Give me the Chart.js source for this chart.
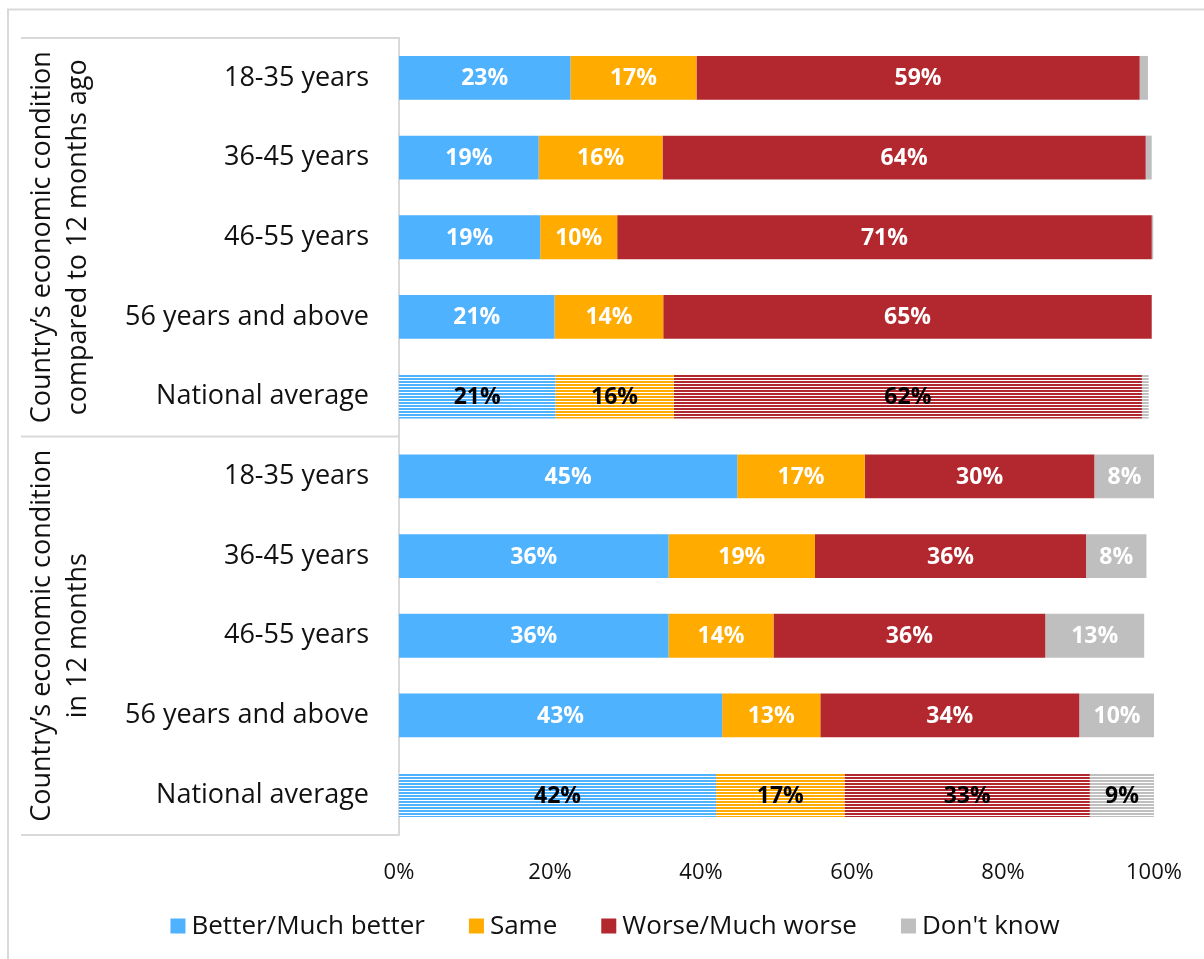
<!DOCTYPE html>
<html>
<head>
<meta charset="utf-8">
<script src="https://cdn.jsdelivr.net/npm/chart.js@4/dist/chart.umd.min.js"></script>
<style>
  html, body { margin: 0; padding: 0; background: #fff; }
  #wrap { width: 1204px; height: 959px; position: relative; }
</style>
</head>
<body>
<div id="wrap"><canvas id="chart" width="1204" height="959"></canvas></div>
<script>
const categories = [
    '18-35 years', '36-45 years', '46-55 years', '56 years and above', 'National average',
    '18-35 years', '36-45 years', '46-55 years', '56 years and above', 'National average'
];
const groupTitles = [
    ['Country\u2019s economic condition', 'compared to 12 months ago'],
    ['Country\u2019s economic condition', 'in 12 months']
];
const seriesNames = ['Better/Much better', 'Same', 'Worse/Much worse', 'Don\'t know'];
const better = [22.7, 18.5, 18.7, 20.6, 20.7, 44.8, 35.7, 35.7, 42.8, 42.0];
const same = [16.7, 16.4, 10.2, 14.4, 15.7, 16.9, 19.4, 13.9, 13.0, 17.0];
const worse = [58.7, 64.0, 70.8, 64.7, 62.0, 30.4, 35.9, 36.0, 34.3, 32.5];
const dontKnow = [1.1, 0.8, 0.2, 0, 0.9, 8.0, 8.0, 13.1, 10.0, 8.5];
const xTicks = [0, 20, 40, 60, 80, 100];

const colors = ['#4fb2ff', '#ffab00', '#b2282e', '#bfbfbf'];
const fontFamily = '"Open Sans", "Noto Sans", sans-serif';
const lineColor = '#d9d9d9';

// horizontal stripes for the national average rows
function stripes(color) {
    const c = document.createElement('canvas');
    c.width = 4;
    c.height = 3;
    const cx = c.getContext('2d');
    cx.fillStyle = color;
    cx.fillRect(0, 0, 4, 2);
    cx.fillStyle = 'rgba(255,255,255,0.85)';
    cx.fillRect(0, 2, 4, 1);
    return cx.createPattern(c, 'repeat');
}

function isAverage(i) {
    return categories[i] === 'National average';
}

function makeDataset(name, values, color) {
    const pattern = stripes(color);
    return {
        label: name,
        data: values,
        backgroundColor: ctx => isAverage(ctx.dataIndex) ? pattern : color,
        borderWidth: 0,
        categoryPercentage: 1,
        barPercentage: 0.55
    };
}

const tablePlugin = {
    id: 'table',
    beforeDraw(chart) {
        const ctx = chart.ctx;
        const area = chart.chartArea;
        ctx.save();
        ctx.strokeStyle = lineColor;
        ctx.lineWidth = 2;
        // outer frame
        ctx.beginPath();
        ctx.moveTo(8, 960);
        ctx.lineTo(8, 9.5);
        ctx.lineTo(1210, 9.5);
        ctx.stroke();
        // group separators
        const band = (area.bottom - area.top) / categories.length;
        const rows = [0, 5, 10];
        ctx.beginPath();
        rows.forEach(r => {
            const y = area.top + r * band;
            ctx.moveTo(21, y);
            ctx.lineTo(area.left, y);
        });
        ctx.stroke();
        // group titles
        ctx.fillStyle = '#111';
        ctx.font = '27px ' + fontFamily;
        ctx.textAlign = 'center';
        ctx.textBaseline = 'middle';
        groupTitles.forEach((lines, g) => {
            const yc = area.top + (g * 5 + 2.5) * band;
            ctx.save();
            ctx.translate(0, yc);
            ctx.rotate(-Math.PI / 2);
            lines.forEach((t, k) => {
                ctx.fillText(t, 0, 42 + k * 36);
            });
            ctx.restore();
        });
        ctx.restore();
    },
    afterDatasetsDraw(chart) {
        const ctx = chart.ctx;
        ctx.save();
        ctx.font = 'bold 23px ' + fontFamily;
        ctx.textAlign = 'center';
        ctx.textBaseline = 'middle';
        chart.data.datasets.forEach((ds, d) => {
            const meta = chart.getDatasetMeta(d);
            meta.data.forEach((bar, i) => {
                const v = ds.data[i];
                if (v < 5) return;
                ctx.fillStyle = isAverage(i) ? '#000' : '#fff';
                ctx.fillText(Math.round(v) + '%', (bar.x + bar.base) / 2, bar.y + 1);
            });
        });
        ctx.restore();
    },
    afterDraw(chart) {
        // legend
        const ctx = chart.ctx;
        ctx.save();
        ctx.font = '26px ' + fontFamily;
        ctx.textBaseline = 'middle';
        ctx.textAlign = 'left';
        const box = 15, gapText = 6, gapItem = 44;
        const widths = chart.data.datasets.map(ds => box + gapText + ctx.measureText(ds.label).width);
        const total = widths.reduce((a, b) => a + b, 0) + gapItem * (widths.length - 1);
        let x = 615 - total / 2;
        const y = 926;
        chart.data.datasets.forEach((ds, d) => {
            ctx.fillStyle = colors[d];
            ctx.fillRect(x, y - box / 2, box, box);
            ctx.fillStyle = '#111';
            ctx.fillText(ds.label, x + box + gapText, y + 1);
            x += widths[d] + gapItem;
        });
        ctx.restore();
    }
};

new Chart(document.getElementById('chart'), {
    type: 'bar',
    data: {
        labels: categories,
        datasets: [
            makeDataset(seriesNames[0], better, colors[0]),
            makeDataset(seriesNames[1], same, colors[1]),
            makeDataset(seriesNames[2], worse, colors[2]),
            makeDataset(seriesNames[3], dontKnow, colors[3])
        ]
    },
    options: {
        indexAxis: 'y',
        responsive: false,
        animation: false,
        layout: {
            padding: { left: 22, right: 50, top: 38, bottom: 74 }
        },
        plugins: {
            legend: { display: false },
            tooltip: { enabled: false }
        },
        scales: {
            x: {
                stacked: true,
                min: 0,
                max: 100,
                afterBuildTicks: scale => {
                    scale.ticks = xTicks.map(v => ({ value: v }));
                },
                afterFit: scale => {
                    scale.height = 50;
                    scale.paddingLeft = 0;
                    scale.paddingRight = 0;
                },
                grid: { display: false, drawTicks: false },
                border: { display: false },
                ticks: {
                    padding: 25,
                    color: '#111',
                    font: { family: fontFamily, size: 22 },
                    callback: v => v + '%'
                }
            },
            y: {
                stacked: true,
                afterFit: scale => {
                    scale.width = 377;
                    scale.paddingTop = 0;
                    scale.paddingBottom = 0;
                },
                grid: { display: false, drawTicks: false },
                border: { display: true, color: lineColor, width: 2 },
                ticks: {
                    padding: 30,
                    color: '#111',
                    font: { family: fontFamily, size: 27 },
                    autoSkip: false
                }
            }
        }
    },
    plugins: [tablePlugin]
});
</script>
</body>
</html>
